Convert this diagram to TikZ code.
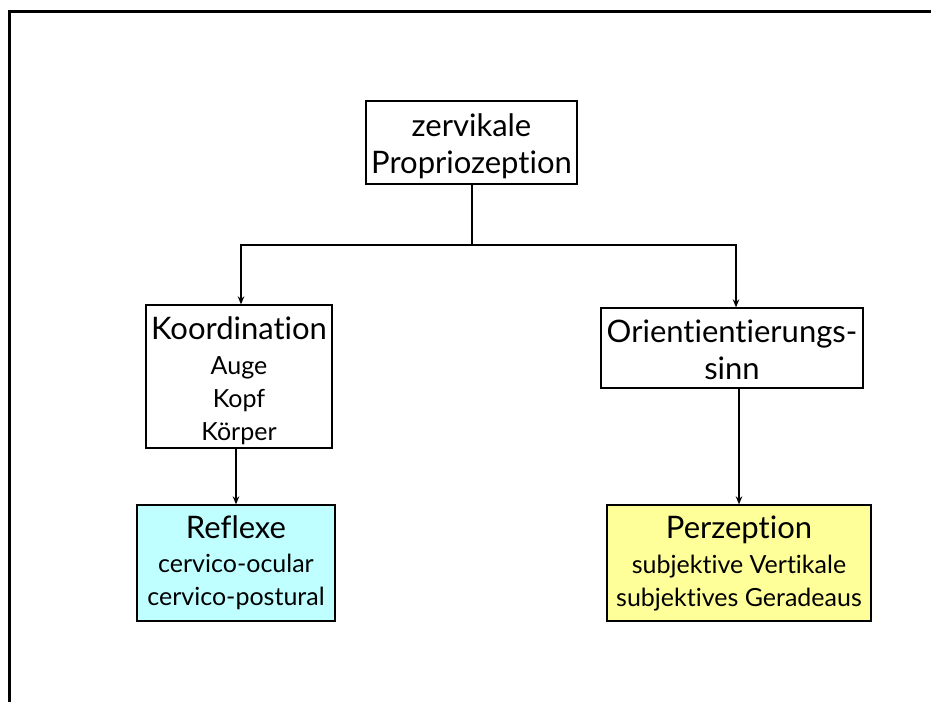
\documentclass[tikz,border=0pt]{standalone}
\usepackage{fontspec}
\setmainfont{Lato}[Ligatures={NoCommon}]
\usetikzlibrary{arrows.meta}
\newcommand{\bigf}{\fontsize{31}{0}\selectfont}
\begin{document}
\begin{tikzpicture}[x=1pt,y=-1pt,
  box/.style={draw=black,line width=1.3pt,align=center,inner sep=0pt},
  big/.style={font=\fontsize{31}{37}\selectfont},
  small/.style={font=\fontsize{25}{33}\selectfont},
  conn/.style={line width=2pt},
  arr/.style={conn,-{Stealth[length=8pt,width=6.5pt]}}]
\useasboundingbox (0,0) rectangle (931,701);
\draw[line width=3pt] (9.5,705) -- (9.5,11.5) -- (935,11.5);
\node[box,big,minimum width=211pt,minimum height=83pt] (top) at (471.5,142.5) {\rule{0pt}{31pt}zervikale\\Propriozeption};
\node[box,small,minimum width=186pt,minimum height=143pt] (koo) at (239,376.5)
  {{\bigf\rule{0pt}{31pt}Koordination}\\[2pt]Auge\\Kopf\\K\"orper};
\node[box,big,minimum width=262pt,minimum height=80pt] (ori) at (732,348) {\rule{0pt}{27pt}Orientientierungs-\\sinn};
\node[box,small,fill={rgb,255:red,191;green,255;blue,255},minimum width=198pt,minimum height=116pt] (ref) at (236,563)
  {{\bigf Reflexe}\\[1pt]cervico-ocular\\cervico-postural};
\node[box,small,fill={rgb,255:red,255;green,255;blue,153},minimum width=264pt,minimum height=116pt] (per) at (739,563)
  {{\bigf Perzeption}\\[2pt]subjektive Vertikale\\subjektives Geradeaus};
\coordinate (j) at (471.5,245);
\draw[conn] (top.south) -- (j);
\draw[arr] (j) -| ([xshift=2pt]koo.north);
\draw[arr] (j) -| ([xshift=4pt]ori.north);
\draw[arr] ([xshift=-3pt]koo.south) -- (ref.north);
\draw[arr] ([xshift=7pt]ori.south) -- (per.north);
\end{tikzpicture}
\end{document}
